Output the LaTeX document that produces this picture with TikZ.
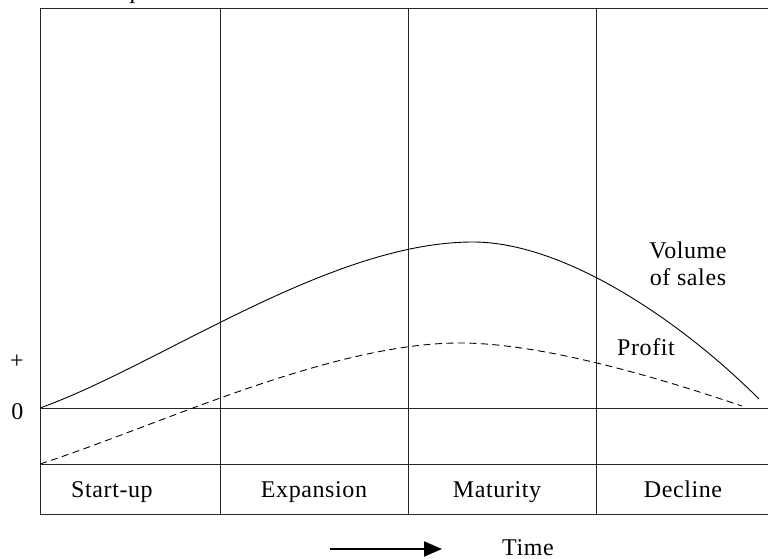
\documentclass[tikz,border=0pt]{standalone}
\usepackage{fontspec}
\setmainfont{Liberation Serif}[LetterSpace=2.5]
\usetikzlibrary{arrows.meta}
\begin{document}
\begin{tikzpicture}[x=1pt,y=-1pt,
  frame/.style={line width=1pt,draw=black!85},
  curve/.style={line width=0.9pt},
  lbl/.style={font=\fontsize{24}{26}\selectfont,inner sep=0pt,anchor=base}]
\useasboundingbox (0,0) rectangle (768,559);
% frame
\draw[frame] (40,9) -- (768,9);
\draw[frame] (40,9) -- (40,514);
\foreach \x in {220,408,596} \draw[frame] (\x,9) -- (\x,514);
\foreach \y in {408,464,514} \draw[frame] (40,\y) -- (768,\y);
% cut-off title
\node[lbl] (title) at (137,-1) {\itshape p};
% axis labels
\node[lbl] (plus) at (17,368) {+};
\node[lbl] (zero) at (17.5,419) {0};
% curves
\draw[curve] (40,408) .. controls (160,365) and (330,242) .. (473,242)
  .. controls (563,242) and (679,319) .. (759,399);
\draw[curve,dash pattern=on 7pt off 4.5pt] (40,464) .. controls (160,425) and (330,343) .. (460,343)
  .. controls (550,343) and (680,385) .. (742,406);
% curve labels
\node[lbl] (vol) at (688,258) {Volume};
\node[lbl] (ofs) at (688,285) {of sales};
\node[lbl] (profit) at (646,355) {Profit};
% stage labels
\node[lbl] (s1) at (112,497) {Start-up};
\node[lbl] (s2) at (314,497) {Expansion};
\node[lbl] (s3) at (497,497) {Maturity};
\node[lbl] (s4) at (683,497) {Decline};
% time arrow
\coordinate (a0) at (330,549);
\coordinate (a1) at (442,549);
\draw[line width=2pt,-{Triangle[length=18pt,width=15pt]}] (a0) -- (a1);
\node[lbl] (time) at (528,555) {Time};
\end{tikzpicture}
\end{document}
